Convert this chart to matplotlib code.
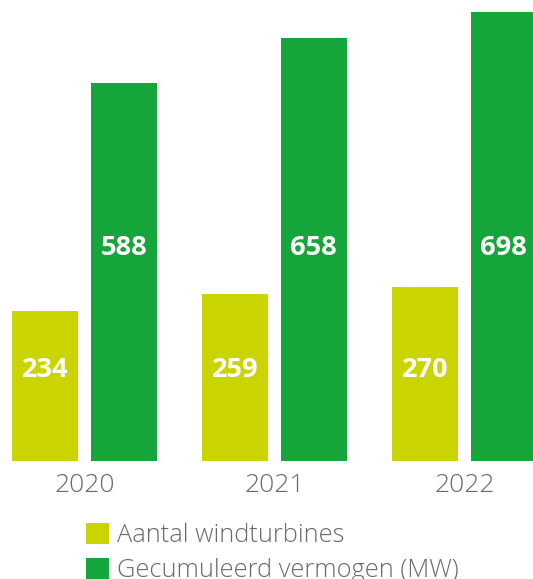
import matplotlib

matplotlib.use("Agg")
import matplotlib.pyplot as plt
import numpy as np

plt.rcParams["font.family"] = ["Open Sans", "DejaVu Sans"]

years = ["2020", "2021", "2022"]
turbines = [234, 259, 270]
capacity_mw = [588, 658, 698]
series_labels = ["Aantal windturbines", "Gecumuleerd vermogen (MW)"]

YELLOW = "#CAD400"
GREEN = "#16A53A"
GREY = "#6A6A6A"

W, H = 533, 579
fig = plt.figure(figsize=(W / 100, H / 100), dpi=100)
# axes spans from the top of the figure down to the bar baseline
ax = fig.add_axes([0, (H - 461) / H, 1, 461 / H])

x = np.arange(len(years))
width = 0.347
offset = 0.2066
b1 = ax.bar(x - offset, turbines, width, color=YELLOW, label=series_labels[0])
b2 = ax.bar(x + offset, capacity_mw, width, color=GREEN, label=series_labels[1])

ax.set_xlim(-84.5 / 190, (533 - 84.5) / 190)
ax.set_ylim(0, 461 / 0.643)

for i in x:
    ax.text(i - offset, 142, f"{turbines[i]}", ha="center", va="center",
            color="white", fontsize=19.5, fontweight="bold")
    ax.text(i + offset, 331, f"{capacity_mw[i]}", ha="center", va="center",
            color="white", fontsize=19.5, fontweight="bold")

ax.set_xticks(x)
ax.set_xticklabels(years, fontsize=19, color=GREY, fontweight="light")
ax.tick_params(axis="x", length=0, pad=9)
ax.set_yticks([])
for s in ax.spines.values():
    s.set_visible(False)

fig.legend(handles=[b1, b2], labels=series_labels, loc="upper left",
           bbox_to_anchor=(78 / W, 1 - 515 / H), frameon=False,
           prop={"size": 18.3, "weight": "light"},
           labelcolor=GREY, handlelength=0.9, handleheight=0.9,
           handletextpad=0.33, labelspacing=0.38, borderaxespad=0, borderpad=0.3)

fig.savefig("out.png", dpi=100)
